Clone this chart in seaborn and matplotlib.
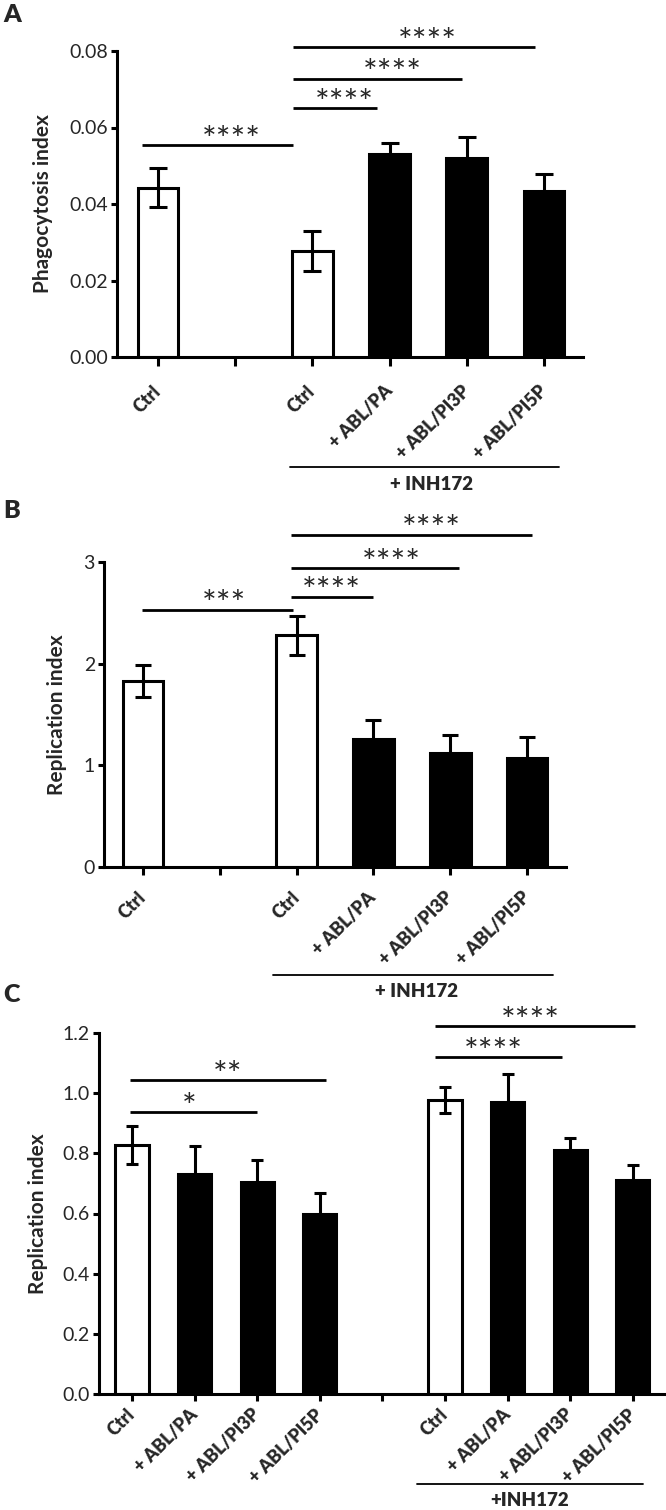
import matplotlib
matplotlib.use("Agg")
import matplotlib.pyplot as plt
import seaborn as sns
import pandas as pd
import numpy as np
from matplotlib.lines import Line2D

sns.set_theme(style="ticks")
plt.rcParams['font.family'] = ['Lato', 'DejaVu Sans']

# ---------------- data ----------------
A_keys   = ["Ctrl", "gap", "Ctrl_i", "PA_i", "PI3P_i", "PI5P_i"]
A_labels = ["Ctrl", "", "Ctrl", "+ ABL/PA", "+ ABL/PI3P", "+ ABL/PI5P"]
A_fill   = ["open", None, "open", "filled", "filled", "filled"]
A_mean   = [0.0443, None, 0.0277, 0.0531, 0.0521, 0.0434]
A_sem    = [0.0050, None, 0.0053, 0.0028, 0.0054, 0.0044]

B_keys   = ["Ctrl", "gap", "Ctrl_i", "PA_i", "PI3P_i", "PI5P_i"]
B_labels = ["Ctrl", "", "Ctrl", "+ ABL/PA", "+ ABL/PI3P", "+ ABL/PI5P"]
B_fill   = ["open", None, "open", "filled", "filled", "filled"]
B_mean   = [1.83, None, 2.28, 1.26, 1.12, 1.07]
B_sem    = [0.16, None, 0.19, 0.19, 0.18, 0.21]

C_keys   = ["Ctrl", "PA", "PI3P", "PI5P", "gap", "Ctrl_i", "PA_i", "PI3P_i", "PI5P_i"]
C_labels = ["Ctrl", "+ ABL/PA", "+ ABL/PI3P", "+ ABL/PI5P", "",
            "Ctrl", "+ ABL/PA", "+ ABL/PI3P", "+ ABL/PI5P"]
C_fill   = ["open", "filled", "filled", "filled", None,
            "open", "filled", "filled", "filled"]
C_mean   = [0.828, 0.731, 0.704, 0.598, None, 0.978, 0.970, 0.812, 0.711]
C_sem    = [0.062, 0.095, 0.074, 0.071, None, 0.044, 0.094, 0.040, 0.050]

# significance annotations: (x_start, x_end, y, text, text_x)
A_sig = [(-0.21, 1.75, 0.0554, "****", 0.95),
         (1.75, 2.84, 0.0651, "****", 2.41),
         (1.75, 3.94, 0.0727, "****", 3.04),
         (1.75, 4.88, 0.0810, "****", 3.49)]
B_sig = [(-0.01, 1.95, 2.53, "***", 1.05),
         (1.93, 3.00, 2.66, "****", 2.45),
         (1.93, 4.11, 2.94, "****", 3.23),
         (1.93, 5.07, 3.27, "****", 3.76)]
C_sig = [(-0.03, 2.00, 0.937, "*", 0.92),
         (-0.03, 3.10, 1.043, "**", 1.52),
         (4.84, 6.87, 1.120, "****", 5.78),
         (4.84, 8.03, 1.223, "****", 6.37)]

W, H = 666, 1510
fig = plt.figure(figsize=(W / 100, H / 100), dpi=100)

def fx(px):
    return px / W

def fy(py):
    return 1 - py / H

LW = 2.2
palette = {"open": "white", "filled": "black"}

def panel(rect_px, keys, labels, fill, mean, sem, ylim, yticks, yticklabels,
          xlim, ylabel, ylabel_x, sig, capsize, ticklen, xpad):
    l, t, r, b = rect_px
    ax = fig.add_axes([fx(l), fy(b), fx(r) - fx(l), fy(t) - fy(b)])
    df = pd.DataFrame({"key": keys, "value": mean, "fill": fill}).dropna()
    sns.barplot(data=df, x="key", y="value", hue="fill", palette=palette,
                order=keys, hue_order=["open", "filled"], dodge=False,
                width=0.53, edgecolor="black", linewidth=LW, legend=False,
                errorbar=None, ax=ax)
    pos = [i for i, m in enumerate(mean) if m is not None]
    mv = [m for m in mean if m is not None]
    sv = [s for s in sem if s is not None]
    ax.errorbar(pos, mv, yerr=sv, fmt="none", ecolor="black", elinewidth=LW,
                capsize=capsize, capthick=LW, zorder=5)
    ax.set_xlim(*xlim)
    ax.set_ylim(*ylim)
    ax.set_yticks(yticks)
    ax.set_yticklabels(yticklabels, fontsize=14)
    ax.set_xticks(range(len(keys)))
    ax.set_xticklabels(labels, fontsize=13, fontweight="heavy", rotation=45,
                       ha="right", va="center", rotation_mode="anchor")
    ax.tick_params(axis="x", length=ticklen, width=LW, pad=xpad, color="black")
    ax.tick_params(axis="y", length=4.5, width=LW, pad=2, color="black")
    for s in ["top", "right"]:
        ax.spines[s].set_visible(False)
    for s in ["left", "bottom"]:
        ax.spines[s].set_linewidth(LW)
        ax.spines[s].set_color("black")
    ax.set_xlabel("")
    ax.set_ylabel(ylabel, fontsize=15, fontweight="bold")
    ax.yaxis.set_label_coords(ylabel_x, 0.5)
    ax.yaxis.label.set_verticalalignment("center")
    ax.set_facecolor("white")
    for (x1, x2, y, txt, tx) in sig:
        ax.plot([x1, x2], [y, y], color="black", lw=2.0, clip_on=False,
                solid_capstyle="butt")
        ax.annotate(txt, xy=(tx, y), xytext=(0, -4), textcoords="offset points",
                    ha="center", va="baseline", fontsize=25, annotation_clip=False)
    return ax

axA = panel((117, 51, 583, 357), A_keys, A_labels, A_fill, A_mean, A_sem,
            (0, 0.08), [0, 0.02, 0.04, 0.06, 0.08],
            ["0.00", "0.02", "0.04", "0.06", "0.08"],
            (-0.531, 5.505), "Phagocytosis index", (43 - 117) / 466, A_sig, 6.5,
            6.5, 16)
axB = panel((104, 562, 566, 867), B_keys, B_labels, B_fill, B_mean, B_sem,
            (0, 3), [0, 1, 2, 3], ["0", "1", "2", "3"],
            (-0.508, 5.508), "Replication index", (57 - 104) / 462, B_sig, 6.0,
            6, 14)
axC = panel((99, 1033, 666, 1394), C_keys, C_labels, C_fill, C_mean, C_sem,
            (0, 1.2), [0, 0.2, 0.4, 0.6, 0.8, 1.0, 1.2],
            ["0.0", "0.2", "0.4", "0.6", "0.8", "1.0", "1.2"],
            (-0.527, 8.53), "Replication index", (38 - 99) / 567, C_sig, 4.0,
            5, 8)

# group lines "+ INH172"
def group(x1, x2, y, tx, ty, txt):
    fig.add_artist(Line2D([fx(x1), fx(x2)], [fy(y), fy(y)], color="black", lw=1.3))
    fig.text(fx(tx), fy(ty), txt, ha="center", va="center", fontsize=13.5,
             fontweight="heavy")

group(290, 559, 467, 432, 485, "+ INH172")
group(273, 553, 975, 417, 991, "+ INH172")
group(417, 643, 1484, 530, 1500, "+INH172")

for lab, y in [("A", 4), ("B", 500), ("C", 984)]:
    fig.text(fx(3), fy(y), lab, ha="left", va="top", fontsize=18, fontweight="heavy")

fig.savefig("out.png", dpi=100, facecolor="white")
